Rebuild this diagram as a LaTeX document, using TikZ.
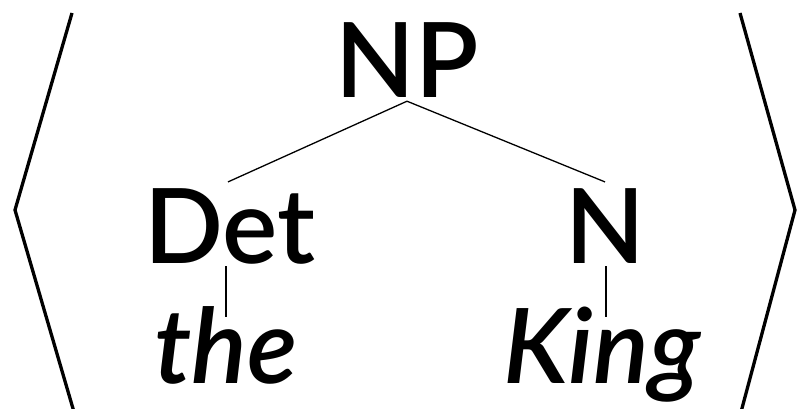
\documentclass[tikz,border=0pt]{standalone}
\usepackage{fontspec}
\setmainfont{Lato}[BoldFont={Lato Semibold},BoldItalicFont={Lato Semibold Italic}]
\begin{document}
\begin{tikzpicture}[x=1pt,y=-1pt,
  lab/.style={anchor=base,inner sep=0pt,font=\fontsize{104}{104}\selectfont\bfseries},
  ilab/.style={lab,font=\fontsize{104}{104}\selectfont\bfseries\itshape},
  br/.style={line width=3.3pt,line join=miter},
  edge/.style={line width=1.3pt}]
\useasboundingbox (0,0) rectangle (797,409);
\node[lab] (NP) at (407,98) {NP};
\node[lab] (Det) at (230,263) {Det};
\node[lab] (N) at (605,263) {N};
\node[ilab] (the) at (226,383) {the};
\node[ilab] (King) at (602,383) {King};
\draw[edge] ([yshift=-3pt]NP.south) -- ([xshift=-2pt,yshift=6pt]Det.north);
\draw[edge] ([yshift=-3pt]NP.south) -- ([yshift=6pt]N.north);
\draw[edge] ([xshift=-4pt,yshift=-3pt]Det.base) -- ([xshift=0pt,yshift=66pt]the.base);
\draw[edge] ([xshift=1pt,yshift=-3pt]N.base) -- ([xshift=4pt,yshift=66pt]King.base);
\coordinate (L1) at (72,13);
\coordinate (L2) at (15,210);
\coordinate (L3) at (74,412);
\coordinate (R1) at (740,13);
\coordinate (R2) at (795,210);
\coordinate (R3) at (741,412);
\draw[br] (L1) -- (L2) -- (L3);
\draw[br] (R1) -- (R2) -- (R3);
\end{tikzpicture}
\end{document}
